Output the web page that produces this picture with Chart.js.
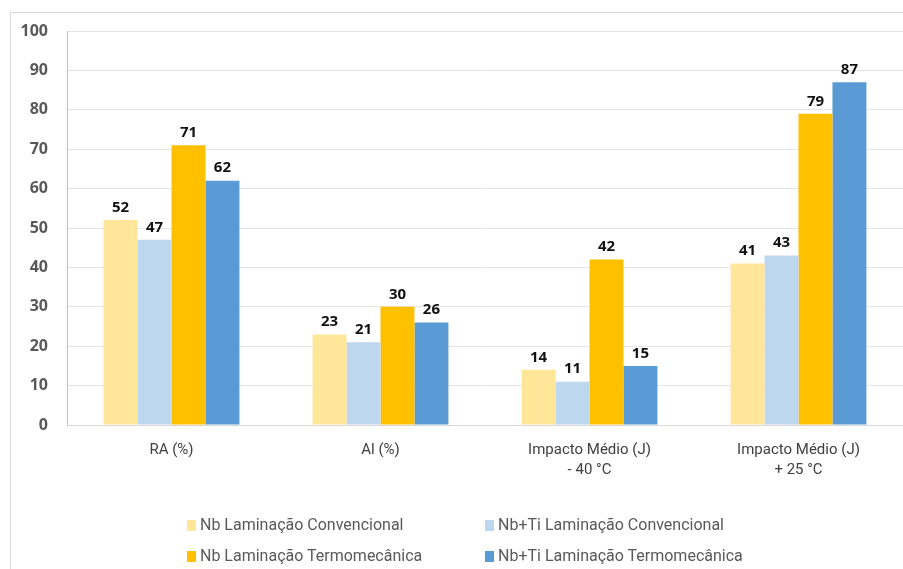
<!DOCTYPE html>
<html lang="pt">
<head>
<meta charset="UTF-8">
<title>Propriedades mecânicas</title>
<script src="https://cdn.jsdelivr.net/npm/chart.js"></script>
<style>
    html, body { margin: 0; padding: 0; background: #fff; }
    #wrap { position: relative; width: 903px; height: 569px; overflow: hidden; }
    #frame {
        position: absolute; left: 10px; top: 12px; width: 1000px; height: 600px;
        border-left: 1px solid #d9d9d9; border-top: 1px solid #d9d9d9;
    }
    #chart { position: absolute; left: 0; top: 0; }
    .legend {
        position: absolute; font-family: "Liberation Sans Narrow", "Roboto", sans-serif;
        font-size: 16px; color: #595959; white-space: nowrap;
    }
    .legend span.box { display: inline-block; width: 9px; height: 11px; margin-right: 4px; vertical-align: -1px; }
</style>
</head>
<body>
<div id="wrap">
    <div id="frame"></div>
    <canvas id="chart" width="903" height="569"></canvas>
    <div id="legend"></div>
</div>
<script>
    const categories = [['RA (%)'], ['Al (%)'], ['Impacto Médio (J)', '- 40 °C'], ['Impacto Médio (J)', '+ 25 °C']];
    const seriesNames = ['Nb Laminação Convencional', 'Nb+Ti Laminação Convencional', 'Nb Laminação Termomecânica', 'Nb+Ti Laminação Termomecânica'];
    const nbConv = [52, 23, 14, 41];
    const nbTiConv = [47, 21, 11, 43];
    const nbTermo = [71, 30, 42, 79];
    const nbTiTermo = [62, 26, 15, 87];
    const colors = ['#FFE699', '#BDD7EE', '#FFC000', '#5B9BD5'];

    // posições da legenda (2 colunas x 2 linhas)
    const legendPos = [[187, 515], [485, 515], [187, 546], [485, 546]];
    const legend = document.getElementById('legend');
    seriesNames.forEach((name, i) => {
        const d = document.createElement('div');
        d.className = 'legend';
        d.style.left = legendPos[i][0] + 'px';
        d.style.top = legendPos[i][1] + 'px';
        d.innerHTML = '<span class="box" style="background:' + colors[i] + '"></span>' + name;
        legend.appendChild(d);
    });

    // rótulos de valor acima das barras
    const valueLabels = {
        id: 'valueLabels',
        afterDatasetsDraw(chart) {
            const ctx = chart.ctx;
            ctx.save();
            ctx.font = 'bold 15px "Open Sans", sans-serif';
            ctx.fillStyle = '#111';
            ctx.textAlign = 'center';
            ctx.textBaseline = 'bottom';
            chart.data.datasets.forEach((ds, i) => {
                chart.getDatasetMeta(i).data.forEach((bar, j) => {
                    ctx.fillText(ds.data[j], bar.x, bar.y - 5);
                });
            });
            ctx.restore();
        }
    };

    const data = [nbConv, nbTiConv, nbTermo, nbTiTermo];
    new Chart(document.getElementById('chart'), {
        type: 'bar',
        data: {
            labels: categories,
            datasets: seriesNames.map((name, i) => ({
                label: name,
                data: data[i],
                backgroundColor: colors[i],
                borderWidth: 0
            }))
        },
        options: {
            responsive: false,
            animation: false,
            layout: { padding: { top: 31, right: 0, bottom: 0, left: 0 } },
            datasets: { bar: { categoryPercentage: 0.65, barPercentage: 1.0 } },
            plugins: { legend: { display: false }, tooltip: { enabled: false } },
            scales: {
                x: {
                    grid: { display: false },
                    border: { display: true, color: '#d9d9d9' },
                    ticks: {
                        color: '#404040',
                        padding: 7,
                        font: { family: '"Liberation Sans Narrow", Roboto, sans-serif', size: 15, lineHeight: 1.35 },
                        maxRotation: 0
                    },
                    afterFit(scale) { scale.height = 144; }
                },
                y: {
                    min: 0,
                    max: 100,
                    ticks: {
                        stepSize: 10,
                        color: '#595959',
                        padding: 19,
                        font: { family: '"Open Sans", sans-serif', size: 16, weight: 'bold' }
                    },
                    grid: { color: '#e4e4e4', drawTicks: false },
                    border: { display: true, color: '#bfbfbf' },
                    afterFit(scale) { scale.width = 67; }
                }
            }
        },
        plugins: [valueLabels]
    });
</script>
</body>
</html>
